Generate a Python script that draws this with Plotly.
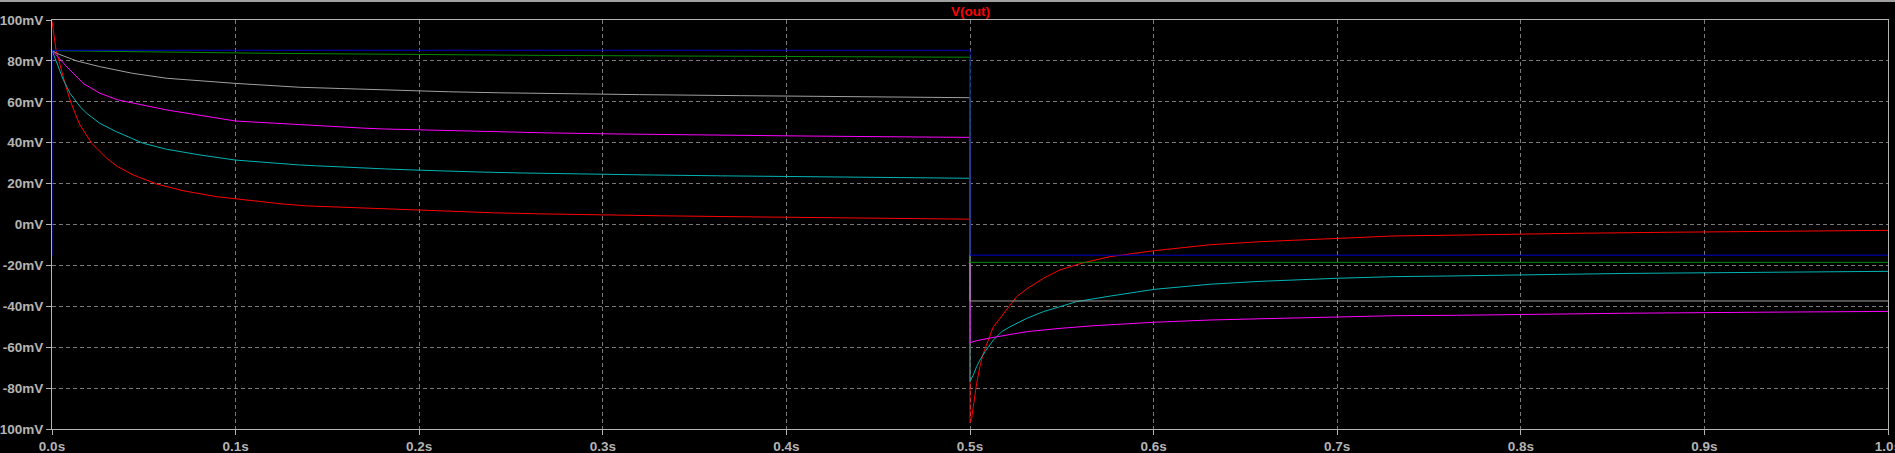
import plotly.graph_objects as go

# ---- data (time in s, voltage in mV) ----
t_red = [0, 0.0022, 0.0071, 0.0098, 0.0138, 0.0153, 0.0216, 0.0298, 0.0352, 0.0443, 0.057, 0.0715,
         0.0897, 0.1, 0.126, 0.1386, 0.154, 0.164, 0.175, 0.187, 0.203, 0.22, 0.241, 0.266, 0.295,
         0.332, 0.379, 0.44, 0.487, 0.5,
         0.5, 0.5009, 0.5018, 0.5027, 0.5036, 0.5054, 0.5072, 0.51, 0.5127, 0.5163, 0.5218, 0.5254,
         0.5309, 0.54, 0.549, 0.5617, 0.5763, 0.6004, 0.6307, 0.658, 0.7, 0.7306, 0.765, 0.79, 0.83,
         0.88, 0.94, 1.0]
v_red = [99.5, 85.3, 69.0, 60.9, 51.6, 48.6, 39.7, 32.4, 28.6, 24.2, 19.8, 16.5,
         13.6, 12.5, 10.0, 9.1, 8.6, 8.1, 7.6, 7.2, 6.7, 6.2, 5.7, 5.2, 4.7,
         4.25, 3.75, 3.25, 2.8, 2.6,
         -96.9, -94.8, -89.1, -82.6, -77.7, -69.5, -63.0, -56.5, -50.0, -45.9, -39.4, -35.3,
         -31.5, -26.3, -22.2, -18.7, -15.7, -12.8, -9.9, -8.4, -6.8, -5.6, -5.2, -4.8, -4.3,
         -3.8, -3.3, -2.85]

t_cyan = [0, 0.0034, 0.0062, 0.0098, 0.0153, 0.0189, 0.026, 0.035, 0.0497, 0.0624, 0.0806, 0.1,
          0.117, 0.135, 0.144, 0.154, 0.166, 0.181, 0.195, 0.21, 0.231, 0.256, 0.284, 0.319, 0.364,
          0.424, 0.48, 0.5,
          0.5, 0.5018, 0.5036, 0.5054, 0.5082, 0.5127, 0.5173, 0.5218, 0.5309, 0.54, 0.549, 0.5581,
          0.5763, 0.6004, 0.6307, 0.658, 0.7, 0.7306, 0.76, 0.78, 0.82, 0.86, 0.92, 1.0]
v_cyan = [85.2, 77.2, 70.7, 64.2, 57.6, 54.4, 49.5, 45.4, 39.7, 36.8, 34.0, 31.5,
          30.2, 29.1, 28.7, 28.2, 27.7, 27.2, 26.7, 26.2, 25.7, 25.2, 24.7, 24.3, 23.8,
          23.3, 22.8, 22.6,
          -76.8, -73.6, -69.5, -66.3, -62.2, -56.5, -52.4, -50.0, -45.9, -42.6, -40.2, -37.7,
          -35.0, -31.7, -29.2, -27.8, -26.3, -25.5, -25.2, -24.85, -24.4, -23.9, -23.4, -22.9]

t_magenta = [0, 0.008, 0.017, 0.026, 0.036, 0.0625, 0.1, 0.135, 0.144, 0.155, 0.168, 0.181, 0.198,
             0.219, 0.241, 0.27, 0.305, 0.349, 0.406, 0.47, 0.5,
             0.5, 0.5036, 0.5127, 0.5218, 0.5309, 0.549, 0.5672, 0.6004, 0.6307, 0.658, 0.7,
             0.7306, 0.765, 0.8, 0.856, 0.93, 1.0]
v_magenta = [85.2, 77.2, 69.0, 64.2, 60.9, 56.0, 50.6, 48.7, 48.2, 47.7, 47.2, 46.7, 46.3,
             45.8, 45.3, 44.8, 44.3, 43.8, 43.3, 42.8, 42.6,
             -57.8, -56.8, -55.2, -53.7, -52.4, -50.8, -49.5, -47.8, -46.7, -46.1, -45.1,
             -44.6, -44.4, -43.9, -43.4, -42.9, -42.5]

t_gray = [0, 0.0025, 0.0134, 0.026, 0.044, 0.0625, 0.1, 0.135, 0.157, 0.172, 0.19, 0.216, 0.244,
          0.28, 0.32, 0.375, 0.45, 0.497, 0.5, 0.5, 1.0]
v_gray = [85.2, 83.7, 80.0, 77.2, 73.9, 71.5, 69.0, 67.1, 66.5, 66.0, 65.4, 64.9, 64.4,
          63.9, 63.5, 63.0, 62.5, 62.2, 62.0, -37.4, -37.4]

t_green = [0, 0.033, 0.074, 0.12, 0.18, 0.266, 0.389, 0.5, 0.5, 1.0]
v_green = [85.0, 84.8, 84.2, 83.7, 83.2, 82.7, 82.2, 81.8, -18.5, -18.5]

t_blue = [0, 0, 0.5, 0.5, 1.0]
v_blue = [-15.1, 85.2, 85.2, -15.0, -15.0]

x_ticks = [0, 0.1, 0.2, 0.3, 0.4, 0.5, 0.6, 0.7, 0.8, 0.9, 1.0]
x_labels = ["0.0s", "0.1s", "0.2s", "0.3s", "0.4s", "0.5s", "0.6s", "0.7s", "0.8s", "0.9s", "1.0s"]
y_ticks = [-100, -80, -60, -40, -20, 0, 20, 40, 60, 80, 100]
y_labels = ["-100mV", "-80mV", "-60mV", "-40mV", "-20mV", "0mV", "20mV", "40mV", "60mV", "80mV", "100mV"]

series = [
    (t_red, v_red, "#ff0000"),
    (t_cyan, v_cyan, "#00b4b4"),
    (t_magenta, v_magenta, "#ff00ff"),
    (t_gray, v_gray, "#a0a0a0"),
    (t_green, v_green, "#008c00"),
    (t_blue, v_blue, "#0000c8"),
]

fig = go.Figure()
for t, v, c in series:
    fig.add_trace(go.Scatter(x=t, y=v, mode="lines", line=dict(color=c, width=1),
                             showlegend=False, hoverinfo="skip", cliponaxis=False))

W, H = 1895, 453
ml, mr, mt, mb = 52, 7, 20, 24
pw, ph = W - ml - mr, H - mt - mb

axis_col = "#b4b4b4"
grid_col = "#7a7a7a"
tickfont = dict(family="Liberation Sans, Arial, sans-serif", size=13.5, color="#b4b4b4", weight="bold")

fig.update_layout(
    template="none",
    width=W, height=H,
    margin=dict(l=ml, r=mr, t=mt, b=mb, pad=0, autoexpand=False),
    paper_bgcolor="#000000", plot_bgcolor="#000000",
    hovermode=False,
    xaxis=dict(range=[0, 1], tickvals=x_ticks, ticktext=x_labels, showline=True, mirror=True,
               linecolor=axis_col, linewidth=1, ticks="outside", ticklen=5, tickcolor=axis_col,
               showgrid=True, gridcolor=grid_col, griddash="4px,3px", gridwidth=1, automargin=False,
               zeroline=False, tickfont=tickfont, fixedrange=True, ticklabeloverflow="allow"),
    yaxis=dict(range=[-100, 100], tickvals=y_ticks, ticktext=y_labels, showline=True, mirror=True,
               linecolor=axis_col, linewidth=1, ticks="outside", ticklen=5, tickcolor=axis_col,
               showgrid=True, gridcolor=grid_col, griddash="4px,3px", gridwidth=1, automargin=False,
               zeroline=False, tickfont=tickfont, fixedrange=True, ticklabeloverflow="allow"),
    annotations=[dict(text="V(out)", xref="paper", yref="paper", x=0.5, y=1 + (mt - 11) / ph,
                      xanchor="center", yanchor="middle", showarrow=False,
                      font=dict(family="Liberation Sans, Arial, sans-serif", size=13.5,
                                color="#ff0000", weight="bold"))],
    shapes=[dict(type="line", xref="paper", yref="paper", x0=-ml / pw, x1=(W - ml) / pw,
                 y0=1 + (mt - 1) / ph, y1=1 + (mt - 1) / ph, line=dict(color="#a0a0a0", width=2))],
)

fig.write_html("out.html", config={"displayModeBar": False},
               post_script="document.body.style.margin='0';document.body.style.overflow='hidden';"
                           "document.body.style.background='#000';")
